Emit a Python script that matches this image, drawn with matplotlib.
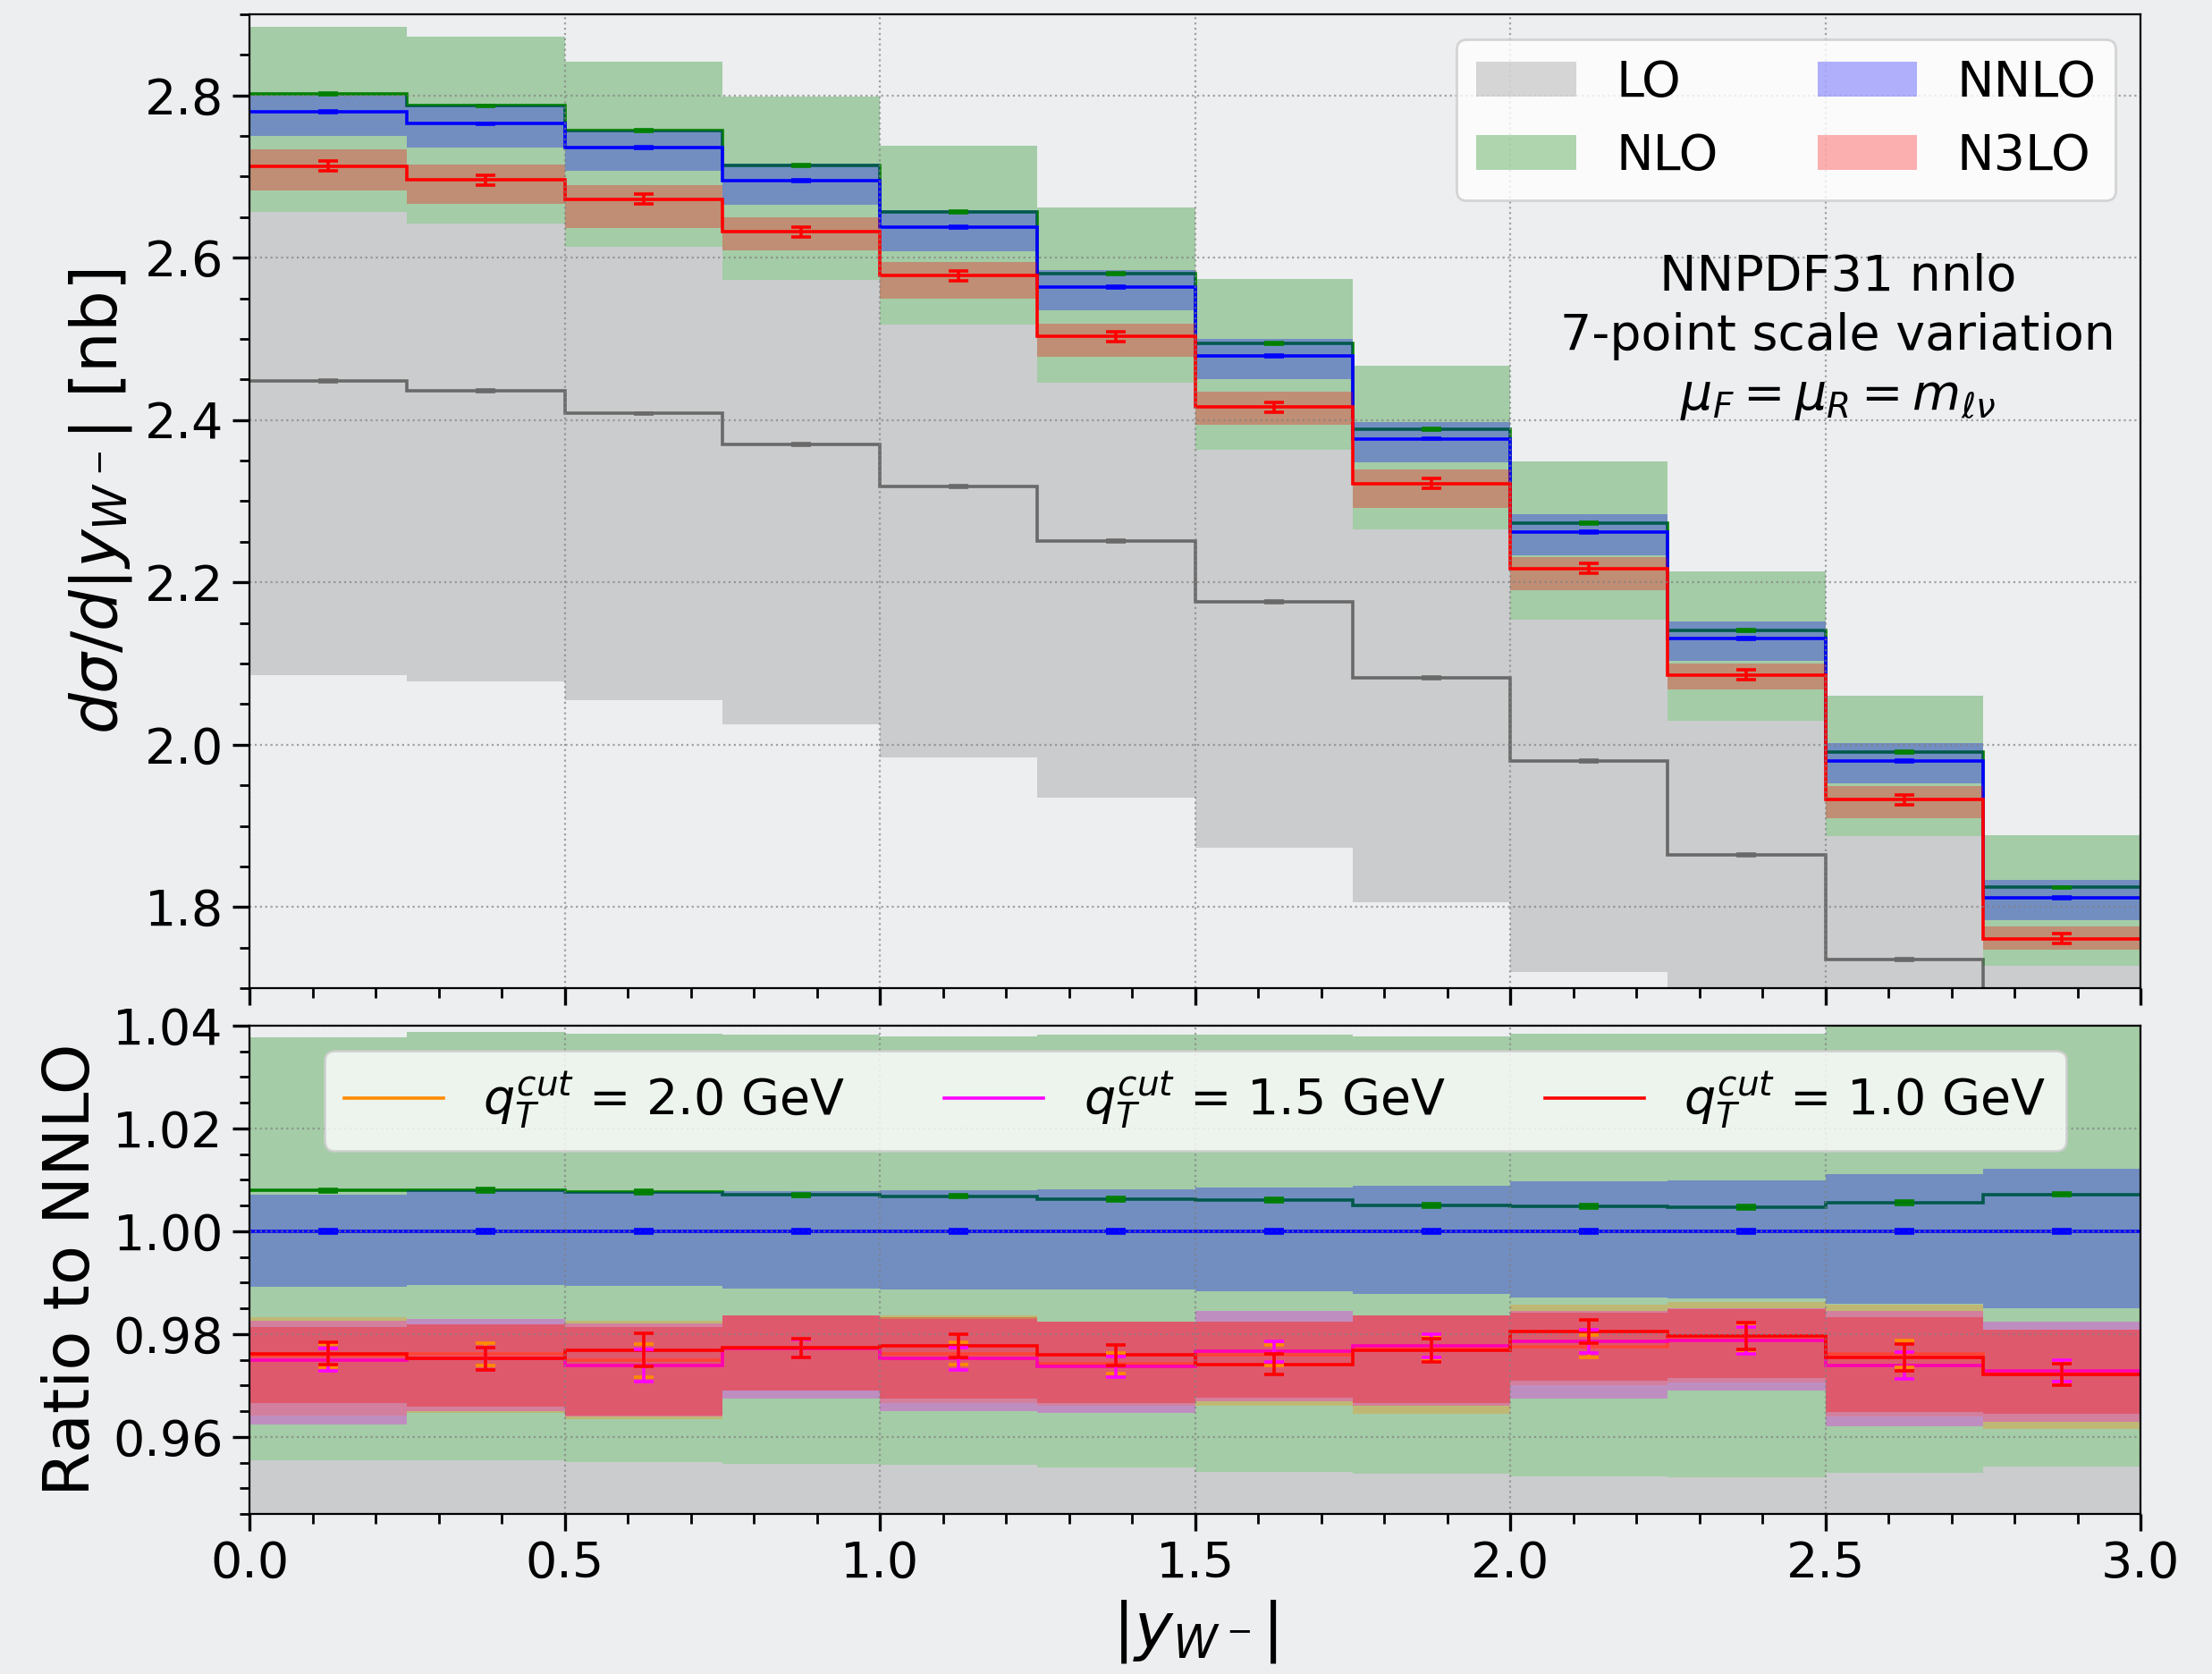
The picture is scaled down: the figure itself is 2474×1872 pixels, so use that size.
import numpy as np
import matplotlib.pyplot as plt
from matplotlib.patches import Patch
from matplotlib.lines import Line2D
from matplotlib.ticker import MultipleLocator

# bins in |y_W-|
edges = [0.0, 0.25, 0.5, 0.75, 1.0, 1.25, 1.5, 1.75, 2.0, 2.25, 2.5, 2.75, 3.0]

# upper panel, d sigma / d|y| [nb]
lo_c = [2.448, 2.436, 2.408, 2.370, 2.318, 2.251, 2.176, 2.082, 1.980, 1.864, 1.735, 1.600]
lo_hi = [2.656, 2.642, 2.613, 2.573, 2.518, 2.446, 2.363, 2.265, 2.154, 2.029, 1.887, 1.728]
lo_lo = [2.086, 2.078, 2.055, 2.025, 1.984, 1.935, 1.873, 1.806, 1.720, 1.660, 1.560, 1.450]

nlo_c = [2.802, 2.787, 2.757, 2.714, 2.656, 2.580, 2.494, 2.389, 2.273, 2.141, 1.991, 1.824]
nlo_hi = [2.885, 2.872, 2.841, 2.798, 2.738, 2.662, 2.574, 2.467, 2.349, 2.213, 2.060, 1.888]
nlo_lo = [2.656, 2.642, 2.613, 2.573, 2.518, 2.446, 2.363, 2.265, 2.154, 2.029, 1.887, 1.728]

nnlo_c = [2.780, 2.765, 2.736, 2.695, 2.638, 2.564, 2.479, 2.377, 2.262, 2.131, 1.980, 1.811]
nnlo_hi = [2.800, 2.787, 2.757, 2.716, 2.659, 2.585, 2.500, 2.398, 2.284, 2.152, 2.002, 1.833]
nnlo_lo = [2.750, 2.736, 2.707, 2.665, 2.608, 2.535, 2.450, 2.348, 2.233, 2.103, 1.952, 1.784]

n3lo_c = [2.713, 2.696, 2.672, 2.632, 2.578, 2.503, 2.416, 2.322, 2.217, 2.086, 1.932, 1.761]
n3lo_hi = [2.733, 2.715, 2.689, 2.650, 2.595, 2.519, 2.435, 2.339, 2.231, 2.100, 1.949, 1.776]
n3lo_lo = [2.683, 2.666, 2.637, 2.609, 2.550, 2.478, 2.394, 2.292, 2.190, 2.068, 1.909, 1.747]
n3lo_err = 0.006
small_err = 0.001

# lower panel, N3LO / NNLO for three qT cuts
q20_c = [0.9758, 0.9761, 0.9749, 0.9772, 0.9762, 0.9743, 0.9759, 0.9772, 0.9776, 0.9790, 0.9761, 0.9726]
q20_hi = [0.9833, 0.9819, 0.9826, 0.9836, 0.9836, 0.9824, 0.9824, 0.9837, 0.9858, 0.9862, 0.9857, 0.9808]
q20_lo = [0.9642, 0.9646, 0.9634, 0.9691, 0.9665, 0.9660, 0.9661, 0.9645, 0.9700, 0.9705, 0.9640, 0.9616]

q15_c = [0.9750, 0.9752, 0.9739, 0.9772, 0.9752, 0.9737, 0.9766, 0.9777, 0.9786, 0.9788, 0.9739, 0.9729]
q15_hi = [0.9825, 0.9830, 0.9820, 0.9836, 0.9830, 0.9824, 0.9845, 0.9837, 0.9845, 0.9850, 0.9845, 0.9824]
q15_lo = [0.9624, 0.9650, 0.9640, 0.9674, 0.9650, 0.9646, 0.9670, 0.9660, 0.9674, 0.9691, 0.9620, 0.9630]

q10_c = [0.9762, 0.9752, 0.9769, 0.9773, 0.9777, 0.9759, 0.9741, 0.9768, 0.9805, 0.9797, 0.9754, 0.9721]
q10_hi = [0.9813, 0.9819, 0.9813, 0.9836, 0.9832, 0.9824, 0.9824, 0.9837, 0.9841, 0.9848, 0.9833, 0.9808]
q10_lo = [0.9665, 0.9659, 0.9642, 0.9691, 0.9674, 0.9665, 0.9677, 0.9665, 0.9710, 0.9715, 0.9648, 0.9645]
q_err = [0.0022, 0.0022, 0.0032, 0.0018, 0.0022, 0.0020, 0.0020, 0.0023, 0.0022, 0.0026, 0.0026, 0.0021]

edges = np.array(edges)
centers = 0.5 * (edges[1:] + edges[:-1])
ref = np.array(nnlo_c)

fig = plt.figure(figsize=(12.37, 9.36), dpi=200, facecolor='#eceef0')
ax = fig.add_axes([0.1128, 0.4097, 0.8549, 0.5818], facecolor='none')
axr = fig.add_axes([0.1128, 0.0956, 0.8549, 0.2917], facecolor='none', sharex=ax)

alpha = 0.3
lw = 1.3


def draw(axis, c, hi, lo, color, err, lcolor=None, cap=4):
    axis.stairs(hi, edges, baseline=lo, fill=True, color=color, alpha=alpha, lw=0)
    axis.stairs(c, edges, color=lcolor or color, lw=lw, baseline=None)
    axis.errorbar(centers, c, yerr=err, fmt='none', ecolor=lcolor or color,
                  elinewidth=lw, capsize=cap, capthick=lw)


# upper panel
draw(ax, lo_c, lo_hi, lo_lo, 'gray', small_err, lcolor='dimgray')
draw(ax, nlo_c, nlo_hi, nlo_lo, 'green', small_err)
draw(ax, nnlo_c, nnlo_hi, nnlo_lo, 'blue', small_err)
draw(ax, n3lo_c, n3lo_hi, n3lo_lo, 'red', n3lo_err)

ax.set_xlim(0, 3)
ax.set_ylim(1.7, 2.9)
ax.set_ylabel(r'$d\sigma/d|y_{W^-}|$ [nb]', fontsize=26)
ax.yaxis.set_major_locator(MultipleLocator(0.2))
ax.yaxis.set_minor_locator(MultipleLocator(0.05))
ax.grid(True, ls=':', color='gray', lw=0.8, alpha=0.7)
ax.tick_params(labelbottom=False)

handles = [Patch(color='gray', alpha=alpha, lw=0), Patch(color='green', alpha=alpha, lw=0),
           Patch(color='blue', alpha=alpha, lw=0), Patch(color='red', alpha=alpha, lw=0)]
ax.legend(handles, ['LO', 'NLO', 'NNLO', 'N3LO'], ncol=2, loc='upper right', fontsize=20)
ax.text(0.84, 0.755, 'NNPDF31 nnlo\n7-point scale variation\n' + r'$\mu_F=\mu_R=m_{\ell\nu}$',
        transform=ax.transAxes, ha='center', va='top', fontsize=20, linespacing=1.3)

# lower panel: ratio to NNLO
draw(axr, np.array(lo_c) / ref, np.array(lo_hi) / ref, np.array(lo_lo) / ref, 'gray', small_err,
     lcolor='dimgray')
draw(axr, np.array(nlo_c) / ref, np.array(nlo_hi) / ref, np.array(nlo_lo) / ref, 'green', 0.0003)
draw(axr, np.array(nnlo_c) / ref, np.array(nnlo_hi) / ref, np.array(nnlo_lo) / ref, 'blue', 0.0003)
draw(axr, q20_c, q20_hi, q20_lo, 'darkorange', q_err)
draw(axr, q15_c, q15_hi, q15_lo, 'magenta', q_err)
draw(axr, q10_c, q10_hi, q10_lo, 'red', q_err)

axr.set_ylim(0.945, 1.04)
axr.yaxis.set_major_locator(MultipleLocator(0.02))
axr.yaxis.set_minor_locator(MultipleLocator(0.005))
axr.xaxis.set_major_locator(MultipleLocator(0.5))
axr.xaxis.set_minor_locator(MultipleLocator(0.1))
axr.grid(True, ls=':', color='gray', lw=0.8, alpha=0.7)
axr.set_ylabel('Ratio to NNLO', fontsize=26)
axr.set_xlabel(r'$|y_{W^-}|$', fontsize=26)

qh = [Line2D([], [], color='darkorange', lw=lw), Line2D([], [], color='magenta', lw=lw),
      Line2D([], [], color='red', lw=lw)]
axr.legend(qh, [r'$q_T^{cut}$ = 2.0 GeV', r'$q_T^{cut}$ = 1.5 GeV', r'$q_T^{cut}$ = 1.0 GeV'],
           ncol=3, loc='upper center', fontsize=20)

for a in (ax, axr):
    a.tick_params(which='both', labelsize=20, direction='out')
    a.tick_params(which='major', length=7, width=1.2)
    a.tick_params(which='minor', length=4, width=1)

fig.savefig('out.png', dpi=200, facecolor=fig.get_facecolor())
